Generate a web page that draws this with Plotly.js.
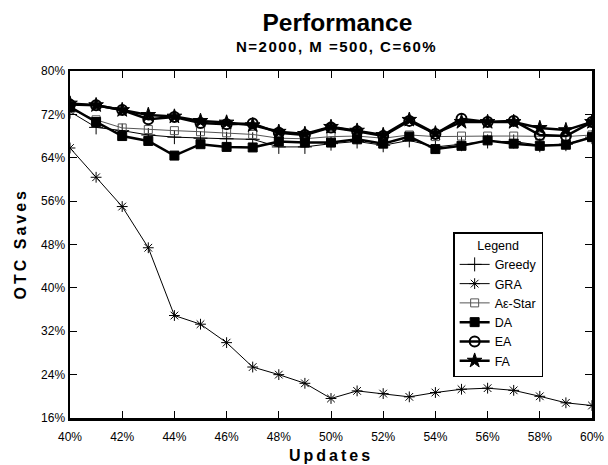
<!DOCTYPE html>
<html>
<head>
<meta charset="utf-8">
<script src="https://cdn.plot.ly/plotly-3.0.1.min.js"></script>
<style>html,body{margin:0;padding:0;background:#fff;}#chart{width:608px;height:465px;}</style>
</head>
<body>
<div id="chart"></div>
<script>
var updates = [40,41,42,43,44,45,46,47,48,49,50,51,52,53,54,55,56,57,58,59,60];
var greedy = [72.5,69.6,69.0,68.2,67.8,67.6,67.5,67.4,66.0,66.0,66.6,67.0,66.3,67.2,66.0,66.5,67.0,67.0,66.3,66.5,67.8];
var gra    = [65.8,60.4,55.0,47.4,34.9,33.3,29.9,25.4,24.0,22.4,19.6,21.0,20.5,19.9,20.7,21.3,21.5,21.1,20.0,18.8,18.3];
var aestar = [73.0,71.0,69.5,69.2,69.0,68.8,68.6,68.3,67.6,67.5,67.9,68.0,67.6,68.2,67.9,68.0,68.0,68.0,68.0,67.9,68.2];
var da     = [73.4,70.6,68.0,67.1,64.4,66.5,66.0,65.9,67.0,66.8,66.8,67.4,66.6,67.9,65.6,66.2,67.2,66.6,66.2,66.4,67.8];
var ea     = [73.8,73.7,72.8,71.1,71.5,70.4,70.2,70.3,68.6,68.2,69.6,68.9,68.0,70.8,68.4,71.2,70.6,70.8,68.2,68.0,70.6];
var fa     = [74.0,73.7,72.8,71.9,71.6,70.8,70.5,70.0,68.8,68.4,69.7,69.0,68.2,71.0,68.5,70.6,70.6,70.6,69.5,69.1,70.6];
var xTicks = [40,42,44,46,48,50,52,54,56,58,60];
var yTicks = [16,24,32,40,48,56,64,72,80];

function tr(name, y, lw, color, sym, msize, mlw) {
  return {x: updates, y: y, name: name, type: 'scatter', mode: 'lines+markers',
    line: {color: color, width: lw},
    marker: {symbol: sym, size: msize, color: color, line: {color: color, width: mlw}}};
}
var data = [
  tr('Greedy', greedy, 1, '#000', 'cross-thin-open', 10, 1),
  tr('GRA', gra, 1, '#000', 'asterisk-open', 9, 1),
  tr('A\u03b5-Star', aestar, 1, '#555', 'square-open', 8, 1),
  tr('DA', da, 2.5, '#000', 'square', 9, 1),
  tr('EA', ea, 2.5, '#000', 'circle-open', 10, 2),
  tr('FA', fa, 2.5, '#000', 'star', 11, 1)
];
var fam = 'Liberation Sans, Arial, sans-serif';
var layout = {
  width: 608, height: 465,
  margin: {l: 70, r: 16, t: 71, b: 47},
  paper_bgcolor: '#fff', plot_bgcolor: '#fff',
  font: {family: fam, size: 12, color: '#000'},
  showlegend: true,
  title: {text: '<b>Performance</b>', font: {family: fam, size: 24.5, color: '#000'}, x: 0.555, xanchor: 'center', yref: 'container', y: 0.952, yanchor: 'middle'},
  annotations: [
    {text: '<b><span style="letter-spacing:1.5px">N=2000, M =500, C=60%</span></b>', xref: 'paper', yref: 'paper', x: 0.51, y: 1, yanchor: 'middle', yshift: 25, showarrow: false, font: {family: fam, size: 15, color: '#000'}},
    {text: '<b><span style="letter-spacing:3px">Updates</span></b>', xref: 'paper', yref: 'paper', x: 0.5, y: 0, yanchor: 'middle', yshift: -37, showarrow: false, font: {family: fam, size: 16, color: '#000'}},
    {text: '<b><span style="letter-spacing:3px">OTC Saves</span></b>', xref: 'paper', yref: 'paper', x: 0, y: 0.5, xanchor: 'center', yanchor: 'middle', xshift: -50, textangle: -90, showarrow: false, font: {family: fam, size: 16, color: '#000'}}
  ],
  xaxis: {range: [40, 60], tickvals: xTicks, ticktext: xTicks.map(function(v){return v+'%';}),
    ticks: 'inside', ticklen: 7, tickwidth: 1, tickcolor: '#000', mirror: 'ticks',
    showline: true, linewidth: 2.5, linecolor: '#000', showgrid: false, zeroline: false,
    ticklabelstandoff: 6,
    tickfont: {size: 12, color: '#000'}},
  yaxis: {range: [16, 80], tickvals: yTicks, ticktext: yTicks.map(function(v){return v+'%';}),
    ticks: 'inside', ticklen: 7, tickwidth: 1, tickcolor: '#000', mirror: 'ticks',
    showline: true, linewidth: 2.5, linecolor: '#000', showgrid: false, zeroline: false,
    tickfont: {size: 12, color: '#000'}},
  legend: {x: 0.734, y: 0.536, xanchor: 'left', yanchor: 'top', bgcolor: '#fff', bordercolor: '#000', borderwidth: 1.5,
    title: {text: 'Legend', side: 'top center', font: {size: 12.5}}, font: {size: 12.5}, tracegroupgap: 0, itemwidth: 30}
};
Plotly.newPlot('chart', data, layout, {displayModeBar: false, staticPlot: true});
</script>
</body>
</html>
